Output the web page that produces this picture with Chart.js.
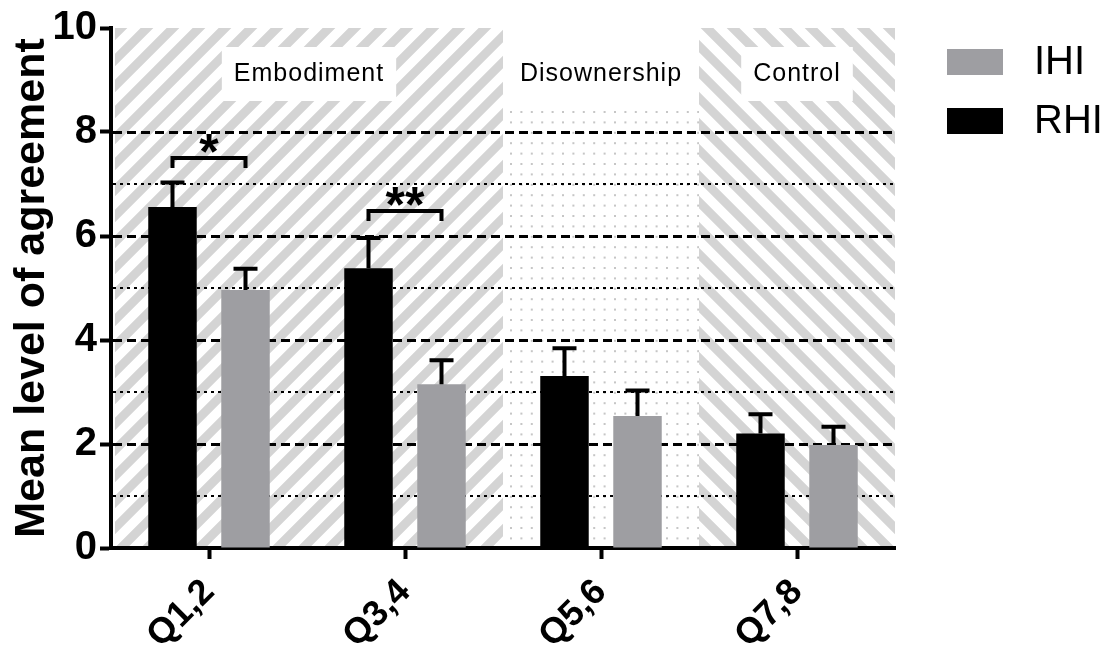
<!DOCTYPE html>
<html>
<head>
<meta charset="utf-8">
<title>Mean level of agreement</title>
<script src="https://cdn.jsdelivr.net/npm/chart.js@4.4.0/dist/chart.umd.min.js"></script>
<style>
  html, body { margin: 0; padding: 0; background: #fff; }
</style>
</head>
<body>
<canvas id="chart" width="1109" height="650"></canvas>
<script>
// Data
const categories = ["Q1,2", "Q3,4", "Q5,6", "Q7,8"];
const rhiMean = [6.56, 5.38, 3.31, 2.2];
const rhiErr = [0.47, 0.58, 0.53, 0.37];
const ihiMean = [4.96, 3.15, 2.54, 1.98];
const ihiErr = [0.41, 0.46, 0.49, 0.35];
const yTicks = [0, 2, 4, 6, 8, 10];
const minorLines = [1, 3, 5, 7];

// Shaded question groups
const regionNames = ["Embodiment", "Disownership", "Control"];
const regionFrom = ["Q1,2", "Q5,6", "Q7,8"];
const regionTo = ["Q3,4", "Q5,6", "Q7,8"];

// Significance brackets (RHI vs IHI)
const sigCategory = ["Q1,2", "Q3,4"];
const sigText = ["*", "**"];
const sigLevel = [7.5, 6.48];

const FONT = "'Liberation Sans', Arial, Helvetica, sans-serif";
const GREY = "#9e9ea2";
const STRIPE = "#d4d4d4";

// Background patterns, region labels and dashed grid lines
const backgroundPlugin = {
  id: "background",
  beforeDraw(chart) {
    const { ctx, chartArea: a, scales: { x, y } } = chart;
    const half = (x.getPixelForValue(1) - x.getPixelForValue(0)) / 2;
    const t = a.top, b = a.bottom - 2;

    regionNames.forEach((name, i) => {
      const l = i === 0 ? a.left + 4 : x.getPixelForValue(categories.indexOf(regionFrom[i])) - half;
      const r = i === regionNames.length - 1 ? a.right : x.getPixelForValue(categories.indexOf(regionTo[i])) + half;

      ctx.save();
      ctx.beginPath();
      ctx.rect(l, t, r - l, b - t);
      ctx.clip();
      const h = b - t;
      if (i === 1) {
        ctx.fillStyle = "#c6c6c6";
        for (let yy = t + 83; yy < b; yy += 10.4) {
          for (let xx = l + 7; xx < r; xx += 10.4) ctx.fillRect(xx, yy, 2, 2);
        }
      } else {
        ctx.strokeStyle = STRIPE;
        ctx.lineWidth = 9;
        ctx.beginPath();
        for (let x0 = l - h - 30; x0 < r + 30; x0 += 26) {
          if (i === 0) { ctx.moveTo(x0, b + 10); ctx.lineTo(x0 + h + 20, t - 10); }
          else { ctx.moveTo(x0, t - 10); ctx.lineTo(x0 + h + 20, b + 10); }
        }
        ctx.stroke();
      }
      ctx.restore();

      // white label box
      ctx.save();
      ctx.font = "25px " + FONT;
      ctx.letterSpacing = "1px";
      const w = ctx.measureText(name).width;
      const cx = (l + r) / 2, cy = t + 46;
      ctx.fillStyle = "#fff";
      if (i === 1) ctx.fillRect(l, t, r - l, 78);
      else ctx.fillRect(cx - w / 2 - 12, cy - 27, w + 24, 54);
      ctx.fillStyle = "#000";
      ctx.textAlign = "center";
      ctx.textBaseline = "middle";
      ctx.fillText(name, cx, cy);
      ctx.restore();
    });

    // grid lines
    ctx.save();
    ctx.strokeStyle = "#000";
    yTicks.filter(v => v > 0 && v < 10).forEach(v => {
      const py = Math.round(y.getPixelForValue(v)) + 0.5;
      ctx.lineWidth = 3;
      ctx.setLineDash([9, 5]);
      ctx.beginPath(); ctx.moveTo(a.left + 2, py); ctx.lineTo(a.right, py); ctx.stroke();
    });
    minorLines.forEach(v => {
      const py = Math.round(y.getPixelForValue(v));
      ctx.lineWidth = 2;
      ctx.setLineDash([3, 4]);
      ctx.beginPath(); ctx.moveTo(a.left + 2, py); ctx.lineTo(a.right, py); ctx.stroke();
    });
    ctx.restore();
  }
};

// Upper error bars and significance brackets
const errorPlugin = {
  id: "errors",
  afterDatasetsDraw(chart) {
    const { ctx, scales: { y } } = chart;
    ctx.save();
    ctx.strokeStyle = "#000";
    ctx.lineWidth = 4;
    chart.data.datasets.forEach((ds, di) => {
      chart.getDatasetMeta(di).data.forEach((bar, j) => {
        const top = y.getPixelForValue(ds.data[j] + ds.errors[j]);
        ctx.beginPath();
        ctx.moveTo(bar.x, bar.y);
        ctx.lineTo(bar.x, top);
        ctx.moveTo(bar.x - 12, top);
        ctx.lineTo(bar.x + 12, top);
        ctx.stroke();
      });
    });

    sigCategory.forEach((cat, k) => {
      const j = categories.indexOf(cat);
      const x1 = chart.getDatasetMeta(0).data[j].x;
      const x2 = chart.getDatasetMeta(1).data[j].x;
      const py = y.getPixelForValue(sigLevel[k]);
      ctx.lineJoin = "miter";
      ctx.beginPath();
      ctx.moveTo(x1, py + 10);
      ctx.lineTo(x1, py);
      ctx.lineTo(x2, py);
      ctx.lineTo(x2, py + 10);
      ctx.stroke();
      ctx.font = "bold 50px " + FONT;
      ctx.fillStyle = "#000";
      ctx.textAlign = "center";
      ctx.textBaseline = "alphabetic";
      const m = ctx.measureText(sigText[k]);
      const center = py - 15;
      ctx.fillText(sigText[k], (x1 + x2) / 2, center + (m.actualBoundingBoxAscent - m.actualBoundingBoxDescent) / 2);
    });
    ctx.restore();
  }
};

// Legend on the right, IHI above RHI
const legendPlugin = {
  id: "sideLegend",
  afterDraw(chart) {
    const { ctx, chartArea: a } = chart;
    const items = chart.data.datasets.slice().reverse();
    ctx.save();
    items.forEach((ds, i) => {
      const top = 49 + i * 59;
      ctx.fillStyle = ds.backgroundColor;
      ctx.fillRect(a.right + 52, top, 56, 26);
      ctx.fillStyle = "#000";
      ctx.font = "40px " + FONT;
      ctx.textBaseline = "middle";
      ctx.fillText(ds.label, a.right + 139, top + 14);
    });
    ctx.restore();
  }
};

new Chart(document.getElementById("chart"), {
  type: "bar",
  data: {
    labels: categories,
    datasets: [
      { label: "RHI", data: rhiMean, errors: rhiErr, backgroundColor: "#000" },
      { label: "IHI", data: ihiMean, errors: ihiErr, backgroundColor: GREY },
    ],
  },
  options: {
    responsive: false,
    animation: false,
    categoryPercentage: 0.745,
    barPercentage: 0.664,
    layout: { padding: { left: 0, top: 28, right: 214, bottom: 0 } },
    plugins: { legend: { display: false }, tooltip: { enabled: false } },
    scales: {
      x: {
        afterFit: s => { s.height = 102; },
        grid: { drawOnChartArea: false, offset: false, tickLength: 11, tickWidth: 4, tickColor: "#000" },
        border: { color: "#000", width: 4 },
        ticks: { color: "#000", font: { family: FONT, size: 36, weight: "bold" }, minRotation: 45, maxRotation: 45, padding: 12 },
      },
      y: {
        min: 0,
        max: 10,
        afterFit: s => { s.width = 111; },
        afterBuildTicks: s => { s.ticks = yTicks.map(v => ({ value: v })); },
        grid: { drawOnChartArea: false, tickLength: 11, tickWidth: 4, tickColor: "#000" },
        border: { color: "#000", width: 4 },
        ticks: { color: "#000", font: { family: FONT, size: 40, weight: "bold" }, padding: 3 },
        title: {
          display: true,
          text: "Mean level of agreement",
          color: "#000",
          font: { family: FONT, size: 43, weight: "bold" },
          padding: { top: 6, bottom: 0 },
        },
      },
    },
  },
  plugins: [backgroundPlugin, errorPlugin, legendPlugin],
});
</script>
</body>
</html>
